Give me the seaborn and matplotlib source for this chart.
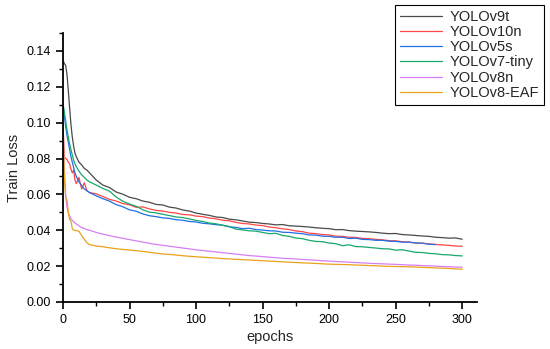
import numpy as np
import pandas as pd
import matplotlib
matplotlib.use("Agg")
import matplotlib.pyplot as plt
from matplotlib.ticker import MultipleLocator
import seaborn as sns

# epochs sampled: every epoch at the start, then every 5
epochs = list(range(0, 11)) + [12, 14, 16, 18, 20] + list(range(25, 301, 5))

models = ["YOLOv9t", "YOLOv10n", "YOLOv5s", "YOLOv7-tiny", "YOLOv8n", "YOLOv8-EAF"]
colors = ["#4a4a4a", "#ff4646", "#1f6fe6", "#17a86b", "#d67ff0", "#eba21c"]

v9t = [0.135, 0.133, 0.132, 0.127, 0.118, 0.108, 0.099, 0.092, 0.087, 0.083, 0.081,
       0.078, 0.0765, 0.0745, 0.0735, 0.072,
       0.068, 0.0652, 0.0638, 0.0613, 0.0601, 0.0584, 0.0576, 0.0563, 0.0556, 0.0544,
       0.0541, 0.0529, 0.0524, 0.0513, 0.0507, 0.0496, 0.0489, 0.0483, 0.0474, 0.0471,
       0.0462, 0.0458, 0.0452, 0.0445, 0.0443, 0.0438, 0.0435, 0.0430, 0.0432, 0.0425,
       0.0423, 0.0421, 0.0418, 0.0414, 0.0411, 0.0409, 0.0403, 0.0404, 0.0398, 0.0395,
       0.0393, 0.0391, 0.0388, 0.0384, 0.0381, 0.0382, 0.0376, 0.0374, 0.0371, 0.0368,
       0.0366, 0.0361, 0.0359, 0.0356, 0.0357, 0.0350]

v10n = [0.100, 0.081, 0.080, 0.0795, 0.078, 0.077, 0.074, 0.072, 0.0735, 0.068, 0.066,
        0.0695, 0.063, 0.0665, 0.062, 0.061,
        0.0603, 0.0588, 0.0572, 0.0563, 0.0549, 0.0542, 0.0528, 0.0530, 0.0519, 0.0511,
        0.0507, 0.0500, 0.0496, 0.0488, 0.0486, 0.0479, 0.0476, 0.0468, 0.0464, 0.0456,
        0.0453, 0.0444, 0.0438, 0.0435, 0.0429, 0.0426, 0.0418, 0.0414, 0.0408, 0.0404,
        0.0396, 0.0392, 0.0384, 0.0381, 0.0376, 0.0374, 0.0367, 0.0366, 0.0361, 0.0360,
        0.0355, 0.0353, 0.0349, 0.0347, 0.0342, 0.0341, 0.0336, 0.0334, 0.0329, 0.0328,
        0.0324, 0.0321, 0.0318, 0.0316, 0.0312, 0.0311]

v5s = [0.110, 0.104, 0.098, 0.093, 0.089, 0.085, 0.081, 0.078, 0.075, 0.072, 0.070,
       0.067, 0.065, 0.063, 0.062, 0.061,
       0.0592, 0.0576, 0.0562, 0.0543, 0.0531, 0.0514, 0.0506, 0.0491, 0.0481, 0.0476,
       0.0469, 0.0466, 0.0459, 0.0456, 0.0449, 0.0446, 0.0439, 0.0436, 0.0431, 0.0428,
       0.0419, 0.0416, 0.0409, 0.0411, 0.0404, 0.0401, 0.0397, 0.0396, 0.0389, 0.0388,
       0.0384, 0.0381, 0.0374, 0.0373, 0.0367, 0.0366, 0.0361, 0.0361, 0.0354, 0.0356,
       0.0349, 0.0348, 0.0344, 0.0344, 0.0339, 0.0338, 0.0334, 0.0334, 0.0329, 0.0328,
       0.0322, 0.0320]  # stops at epoch 280

v7tiny = [0.111, 0.106, 0.101, 0.096, 0.092, 0.088, 0.085, 0.082, 0.079, 0.077, 0.0755,
          0.073, 0.071, 0.0695, 0.068, 0.067,
          0.0652, 0.0633, 0.0618, 0.0585, 0.0562, 0.0546, 0.0534, 0.0514, 0.0501, 0.0497,
          0.0489, 0.0482, 0.0474, 0.0471, 0.0463, 0.0455, 0.0449, 0.0440, 0.0436, 0.0428,
          0.0421, 0.0406, 0.0402, 0.0397, 0.0395, 0.0388, 0.0381, 0.0383, 0.0371, 0.0366,
          0.0357, 0.0353, 0.0344, 0.0338, 0.0336, 0.0329, 0.0325, 0.0314, 0.0319, 0.0309,
          0.0308, 0.0304, 0.0301, 0.0297, 0.0296, 0.0289, 0.0291, 0.0284, 0.0277, 0.0276,
          0.0271, 0.0269, 0.0264, 0.0263, 0.0259, 0.0257]

v8n = [0.100, 0.075, 0.060, 0.053, 0.050, 0.048, 0.0465, 0.0455, 0.0448, 0.044, 0.0435,
       0.0425, 0.0415, 0.041, 0.0403, 0.040,
       0.0388, 0.0378, 0.037, 0.0362, 0.0355, 0.0348, 0.0341, 0.0334, 0.0327, 0.0321,
       0.0316, 0.0311, 0.0306, 0.0301, 0.0296, 0.0291, 0.0287, 0.0283, 0.0279, 0.0275,
       0.0271, 0.0267, 0.0263, 0.0259, 0.0256, 0.0253, 0.025, 0.0247, 0.0244, 0.0242,
       0.024, 0.0237, 0.0235, 0.0233, 0.023, 0.0228, 0.0226, 0.0224, 0.0222, 0.022,
       0.0218, 0.0216, 0.0214, 0.0213, 0.0211, 0.021, 0.0208, 0.0206, 0.0205, 0.0203,
       0.0202, 0.02, 0.0198, 0.0197, 0.0195, 0.0194]

v8eaf = [0.100, 0.070, 0.058, 0.057, 0.050, 0.046, 0.045, 0.041, 0.040, 0.040, 0.0398,
         0.0395, 0.037, 0.035, 0.033, 0.032,
         0.0312, 0.0308, 0.0302, 0.0297, 0.0293, 0.029, 0.0286, 0.0282, 0.0277, 0.0272,
         0.0268, 0.0265, 0.0262, 0.0258, 0.0255, 0.0252, 0.025, 0.0247, 0.0245, 0.0242,
         0.024, 0.0238, 0.0236, 0.0234, 0.0232, 0.023, 0.0228, 0.0226, 0.0224, 0.0222,
         0.022, 0.0218, 0.0217, 0.0215, 0.0213, 0.0211, 0.021, 0.0209, 0.0208, 0.0206,
         0.0205, 0.0203, 0.0202, 0.02, 0.0199, 0.0198, 0.0197, 0.0196, 0.0195, 0.0193,
         0.0192, 0.019, 0.0189, 0.0187, 0.0185, 0.0182]

series = [v9t, v10n, v5s, v7tiny, v8n, v8eaf]
frames = []
for name, vals in zip(models, series):
    frames.append(pd.DataFrame({"epoch": epochs[:len(vals)], "loss": vals, "model": name}))
df = pd.concat(frames, ignore_index=True)

sns.set_style("ticks")
plt.rcParams["font.family"] = ["Liberation Sans", "DejaVu Sans"]

fig = plt.figure(figsize=(5.5, 3.49), dpi=100)
ax = fig.add_axes([0.1145, 0.1347, 0.7525, 0.7707])

sns.lineplot(data=df, x="epoch", y="loss", hue="model", palette=colors,
             hue_order=models, linewidth=0.9, ax=ax)

ax.set_xlim(0, 311)
ax.set_ylim(0, 0.15)
ax.xaxis.set_major_locator(MultipleLocator(50))
ax.xaxis.set_minor_locator(MultipleLocator(25))
ax.yaxis.set_minor_locator(MultipleLocator(0.01))
yt = np.arange(0, 0.141, 0.02)
ax.set_yticks(yt)
ax.set_yticklabels([f"{v:.2f}" for v in yt])

for s in ["top", "right"]:
    ax.spines[s].set_visible(False)
for s in ["left", "bottom"]:
    ax.spines[s].set_linewidth(1.3)
    ax.spines[s].set_color("black")
ax.tick_params(which="major", direction="out", length=5, width=1.2, labelsize=9, colors="black")
ax.tick_params(which="minor", direction="out", length=3, width=1.0, colors="black")

ax.set_xlabel("epochs", fontsize=10.5, labelpad=3)
ax.set_ylabel("Train Loss", fontsize=10.5, labelpad=4)

handles, labels = ax.get_legend_handles_labels()
leg = ax.legend(handles, labels, loc="upper right", bbox_to_anchor=(0.989, 0.986),
                bbox_transform=fig.transFigure, borderaxespad=0, fontsize=10.5,
                frameon=True, fancybox=False, edgecolor="black", framealpha=1,
                handlelength=2.9, handletextpad=0.5, labelspacing=0.08, borderpad=0.35)
leg.get_frame().set_linewidth(0.8)

fig.savefig("out.png", dpi=100)
